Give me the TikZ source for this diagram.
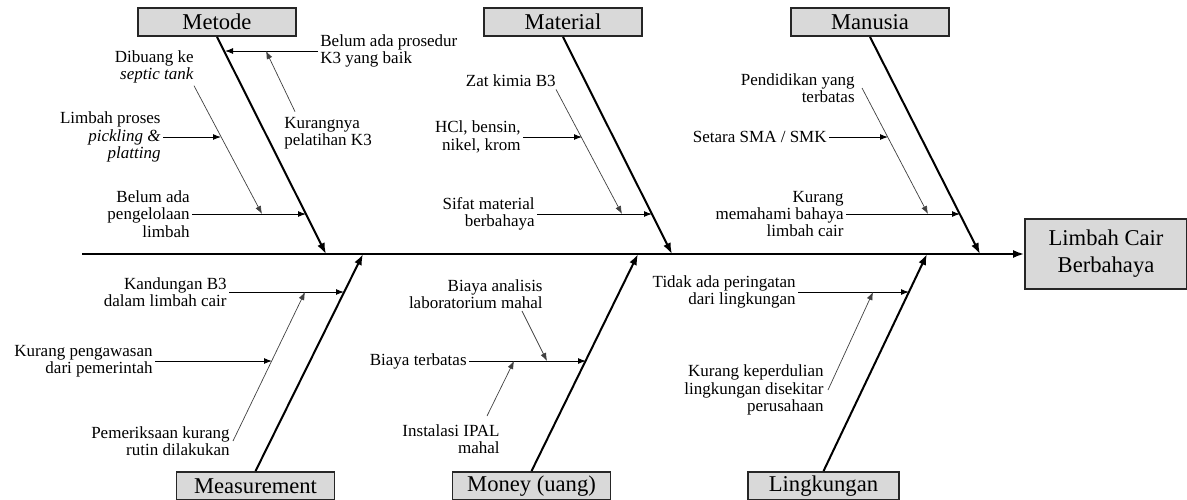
\documentclass[tikz,border=0pt]{standalone}
\usepackage{fontspec}
\setmainfont{Liberation Serif}
\usetikzlibrary{arrows.meta}

\begin{document}
\begin{tikzpicture}[
x=0.5pt, y=-0.5pt,
every node/.style={font=\fontsize{8.5}{8.6}\selectfont, inner sep=1pt},
catbox/.style={draw=black!85, fill=boxgray, line width=0.9pt, minimum width=79pt, minimum height=14pt, inner sep=0pt, font=\fontsize{11.3}{12}\selectfont},
bone/.style={line width=1pt, -{Latex[length=5.5pt,width=4pt]}},
sub/.style={line width=0.5pt, -{Latex[length=4pt,width=3pt]}},
thin/.style={line width=0.35pt, draw=black!75, -{Latex[length=4pt,width=3pt]}}
]
\definecolor{boxgray}{RGB}{217,217,217}

\useasboundingbox (0,0) rectangle (1187,499);
\clip (0,0) rectangle (1187,499);

\node[catbox] (metode) at (217,22) {Metode};
\node[catbox] (material) at (563,22) {Material};
\node[catbox] (manusia) at (870,22) {Manusia};
\node[catbox] (measurement) at (255.5,486) {Measurement};
\node[catbox] (money) at (531.5,486) {Money (uang)};
\node[catbox, minimum width=75.5pt] (lingkungan) at (823.5,486) {Lingkungan};
\node[catbox, minimum width=81pt, minimum height=35pt, align=center, font=\fontsize{11.3}{13.5}\selectfont] (limbah) at (1106,254) {Limbah Cair\\Berbahaya};

% spine and bones
\coordinate (tail) at (82,254);
\coordinate (jmetode) at (326,254);
\coordinate (jmaterial) at (672,254);
\coordinate (jmanusia) at (980,254);
\coordinate (jmeasure) at (363,254);
\coordinate (jmoney) at (638,254);
\coordinate (jling) at (927,254);
\draw[bone] (tail) -- (limbah.west);
\draw[bone] (metode.south) -- (jmetode);
\draw[bone] (material.south) -- (jmaterial);
\draw[bone] (manusia.south) -- (jmanusia);
\draw[bone] (measurement.north) -- (jmeasure);
\draw[bone] (money.north) -- (jmoney);
\draw[bone] (lingkungan.north) -- (jling);

% Metode
\node[anchor=west, align=left] (prosedur) at (318,51) {Belum ada prosedur\\K3 yang baik};
\node[anchor=west, align=left] (kurangnya) at (282,133) {Kurangnya\\pelatihan K3};
\node[anchor=east, align=right] (dibuang) at (196,67) {Dibuang ke\\\textit{septic tank}};
\node[anchor=east, align=right] (pickling) at (163,137) {Limbah proses\\\textit{pickling \&}\\\textit{platting}};
\node[anchor=east, align=right] (pengelolaan) at (192,214) {Belum ada\\pengelolaan\\limbah};
\coordinate (m1) at (225,51);
\coordinate (m2) at (266,51);
\coordinate (m3) at (306,214);
\coordinate (m4) at (262,214);
\coordinate (m5) at (221,137);
\draw[sub] (prosedur.west) -- (m1);
\draw[thin] ([xshift=6.5pt,yshift=1.5pt]kurangnya.north west) -- (m2);
\draw[thin] ([xshift=-1pt]dibuang.south east) -- (m4);
\draw[sub] (pickling.east) -- (m5);
\draw[sub] (pengelolaan.east) -- (m3);

% Material
\node[anchor=east] (zat) at (558,81) {Zat kimia B3};
\node[anchor=east, align=right] (hcl) at (523,137) {HCl, bensin,\\nikel, krom};
\node[anchor=east, align=right] (sifat) at (537,214) {Sifat material\\berbahaya};
\coordinate (t1) at (582,137);
\coordinate (t2) at (622,214);
\coordinate (t3) at (652,214);
\draw[thin] ([xshift=-1pt]zat.south east) -- (t2);
\draw[sub] (hcl.east) -- (t1);
\draw[sub] (sifat.east) -- (t3);

% Manusia
\node[anchor=east, align=right] (pendidikan) at (857,88) {Pendidikan yang\\terbatas};
\node[anchor=east] (setara) at (829,137) {Setara SMA / SMK};
\node[anchor=east, align=right] (memahami) at (846,214) {Kurang\\memahami bahaya\\limbah cair};
\coordinate (h1) at (888,137);
\coordinate (h2) at (928,214);
\coordinate (h3) at (960,214);
\draw[thin] ([xshift=2.5pt]pendidikan.east) -- (h2);
\draw[sub] (setara.east) -- (h1);
\draw[sub] (memahami.east) -- (h3);

% Measurement
\node[anchor=east, align=right] (kandungan) at (229,292) {Kandungan B3\\dalam limbah cair};
\node[anchor=east, align=right] (pengawasan) at (155,361) {Kurang pengawasan\\dari pemerintah};
\node[anchor=east, align=right] (pemeriksaan) at (232,441) {Pemeriksaan kurang\\rutin dilakukan};
\coordinate (e1) at (344,292);
\coordinate (e2) at (305,292);
\coordinate (e3) at (272,361);
\draw[sub] (kandungan.east) -- (e1);
\draw[thin] ([xshift=0.5pt]pemeriksaan.east) -- (e2);
\draw[sub] (pengawasan.east) -- (e3);

% Money
\node[anchor=east, align=right] (analisis) at (545,294) {Biaya analisis\\laboratorium mahal};
\node[anchor=east] (terbatas) at (469,361) {Biaya terbatas};
\node[anchor=east, align=right] (ipal) at (502,439) {Instalasi IPAL\\mahal};
\coordinate (u1) at (547,361);
\coordinate (u2) at (586,361);
\coordinate (u3) at (514,361);
\draw[thin] ([xshift=-11.5pt]analisis.south east) -- (u1);
\draw[sub] (terbatas.east) -- (u2);
\draw[thin] ([xshift=-7.5pt,yshift=3pt]ipal.north east) -- (u3);

% Lingkungan
\node[anchor=east, align=right] (peringatan) at (798,292) {Tidak ada peringatan\\dari lingkungan};
\node[anchor=east, align=right] (keperdulian) at (826,390) {Kurang keperdulian\\lingkungan disekitar\\perusahaan};
\coordinate (l1) at (909,292);
\coordinate (l2) at (873,292);
\draw[sub] (peringatan.east) -- (l1);
\draw[thin] ([xshift=1pt]keperdulian.east) -- (l2);
\end{tikzpicture}
\end{document}
